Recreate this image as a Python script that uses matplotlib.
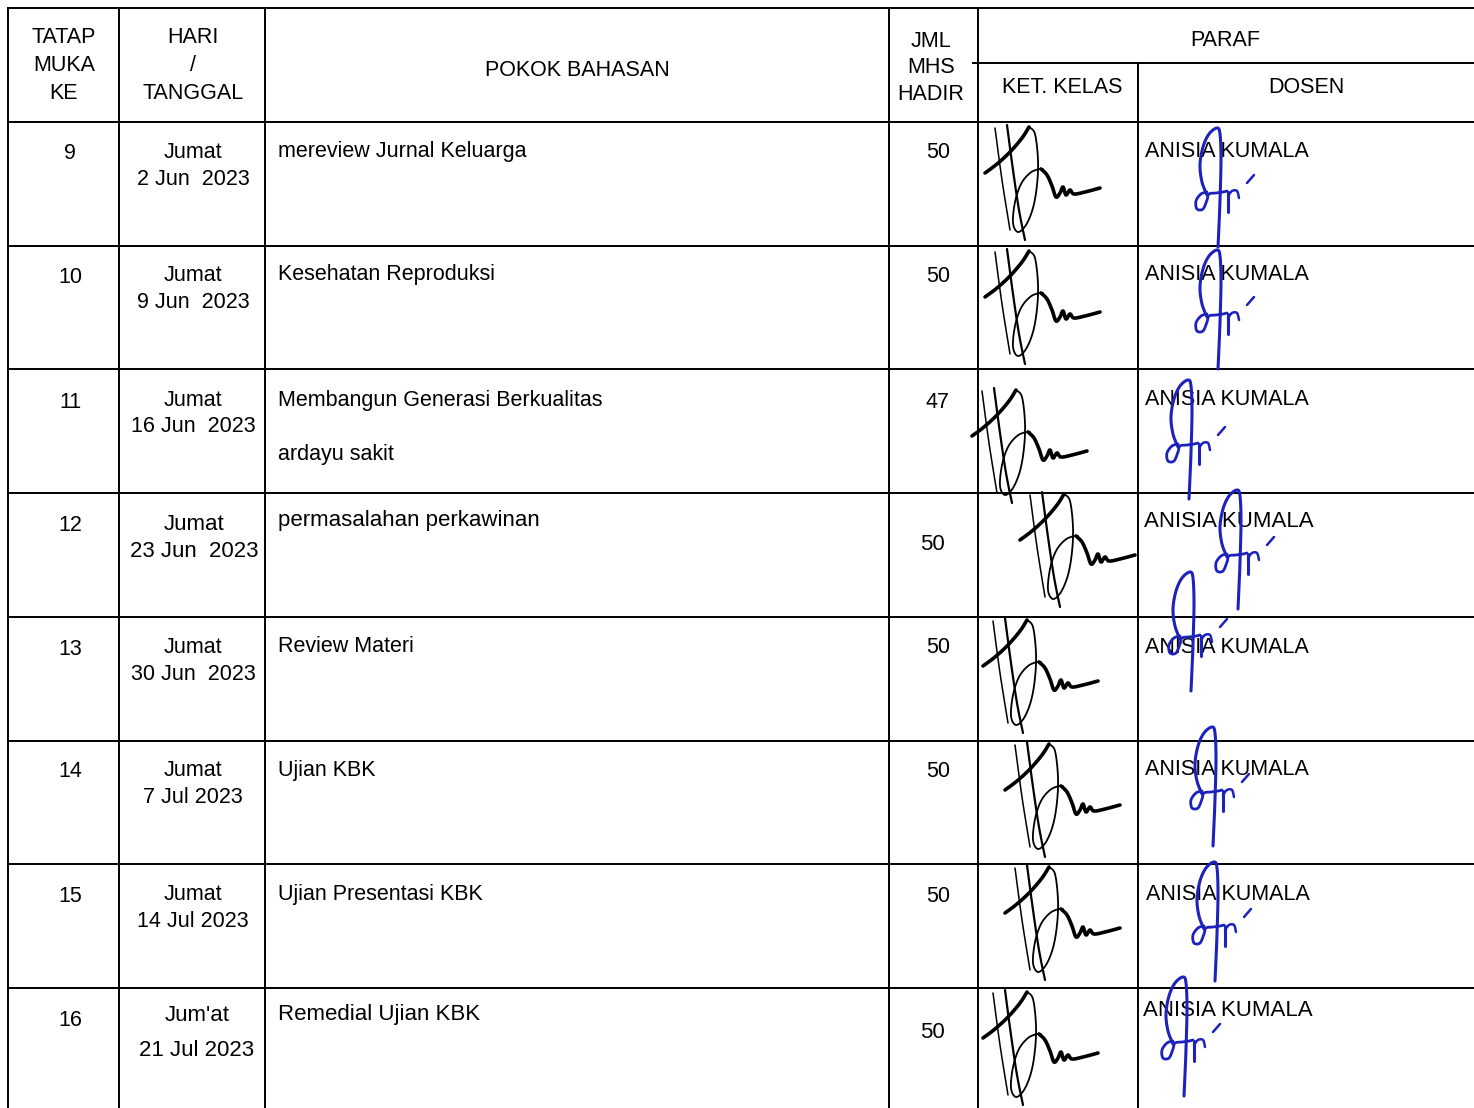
import numpy as np
import matplotlib
matplotlib.use("Agg")
import matplotlib.pyplot as plt
from matplotlib import font_manager

# ---------------- data ----------------
meeting_no = [9, 10, 11, 12, 13, 14, 15, 16]
days = ["Jumat"] * 7 + ["Jum'at"]
dates = ["2 Jun  2023", "9 Jun  2023", "16 Jun  2023", "23 Jun  2023",
         "30 Jun  2023", "7 Jul 2023", "14 Jul 2023", "21 Jul 2023"]
topics = ["mereview Jurnal Keluarga", "Kesehatan Reproduksi",
          "Membangun Generasi Berkualitas", "permasalahan perkawinan",
          "Review Materi", "Ujian KBK", "Ujian Presentasi KBK",
          "Remedial Ujian KBK"]
topic_notes = ["", "", "ardayu sakit", "", "", "", "", ""]
attendance = [50, 50, 47, 50, 50, 50, 50, 50]
lecturer = ["ANISIA KUMALA"] * 8

hdr_no = ["TATAP", "MUKA", "KE"]
hdr_day = ["HARI", "/", "TANGGAL"]
hdr_topic = "POKOK BAHASAN"
hdr_jml = ["JML", "MHS", "HADIR"]
hdr_paraf = "PARAF"
hdr_kelas = "KET. KELAS"
hdr_dosen = "DOSEN"

# ---------------- layout / style ----------------
W, H = 1474, 1108
col_x = [8, 119, 265, 889, 978, 1138]
top_y, sub_y, head_y = 8, 63, 122
row_h = (988 - 122) / 7.0

names = {f.name for f in font_manager.fontManager.ttflist}
REG = "Liberation Sans" if "Liberation Sans" in names else "DejaVu Sans"
NAR = "Liberation Sans Narrow" if "Liberation Sans Narrow" in names else REG
REG_PT = 15.5
NAR_PT = 19.2 if NAR != REG else 16.0
REG_EM = REG_PT * 100 / 72.0
NAR_EM = NAR_PT * 100 / 72.0

# per-row style: narrow font flag and vertical offsets (centres relative to row top)
narrow_row = [False, False, False, True, False, False, False, True]
off_no = [29, 30, 31, 30, 30, 29, 30, 30]
off_day = [28, 28, 29, 29, 28, 28, 28, 25]
off_date = [55, 55, 55, 56, 55, 55, 55, 60]
off_topic = [27, 27, 29, 25, 27, 28, 28, 24]
off_jml = [28, 29, 31, 49, 28, 29, 30, 42]
off_dosen = [27, 27, 28, 26, 28, 27, 28, 20]
x_jml = [938, 938, 938, 932, 938, 938, 938, 932]
x_date = [193, 193, 193, 194, 193, 193, 193, 197]
x_dosen = [1145, 1145, 1145, 1144, 1145, 1145, 1146, 1143]

blk_anchor = [(975, 120), (975, 244), (962, 383), (1010, 487),
              (973, 613), (995, 737), (995, 860), (973, 985)]
blu_anchor = [(1160, 120), (1160, 242), (1131, 372), (1180, 482),
              (1133, 564), (1155, 719), (1157, 854), (1126, 969)]

fig = plt.figure(figsize=(W / 100, H / 100), dpi=100)
ax = fig.add_axes([0, 0, 1, 1])
ax.set_xlim(0, W)
ax.set_ylim(H, 0)
ax.axis("off")

LW = 1.4


def txt(x, cy, s, narrow=False, ha="center"):
    fam = NAR if narrow else REG
    pt = NAR_PT if narrow else REG_PT
    em = NAR_EM if narrow else REG_EM
    ax.text(x, cy + 0.36 * em, s, ha=ha, va="baseline",
            fontsize=pt, family=fam, color="black", zorder=3)


# grid lines
ax.plot([col_x[0], W], [top_y, top_y], color="black", lw=LW, zorder=2)
ax.plot([973, W], [sub_y, sub_y], color="black", lw=LW, zorder=2)
for k in range(8):
    y = head_y + k * row_h
    ax.plot([col_x[0], W], [y, y], color="black", lw=LW, zorder=2)
for x in col_x[:5]:
    ax.plot([x, x], [top_y, H], color="black", lw=LW, zorder=2)
ax.plot([col_x[5], col_x[5]], [sub_y, H], color="black", lw=LW, zorder=2)

# header
for i, s in enumerate(hdr_no):
    txt(64, 35 + 28 * i, s)
for i, s in enumerate(hdr_day):
    txt(193, 35 + 28 * i, s)
txt(577, 68, hdr_topic)
for i, s in enumerate(hdr_jml):
    txt(931, 39 + 26.5 * i, s)
txt(1225, 38, hdr_paraf)
txt(1062, 85, hdr_kelas)
txt(1306, 85, hdr_dosen)

# rows
for r in range(8):
    y0 = head_y + r * row_h
    nar = narrow_row[r]
    txt(70, y0 + off_no[r], str(meeting_no[r]))
    txt(x_date[r], y0 + off_day[r], days[r], narrow=nar)
    txt(x_date[r], y0 + off_date[r], dates[r], narrow=nar)
    txt(278, y0 + off_topic[r], topics[r], narrow=nar, ha="left")
    if topic_notes[r]:
        txt(278, y0 + off_topic[r] + 54, topic_notes[r], narrow=nar, ha="left")
    txt(x_jml[r], y0 + off_jml[r], str(attendance[r]), narrow=nar)
    txt(x_dosen[r], y0 + off_dosen[r], lecturer[r], narrow=nar, ha="left")


# ---------------- signature shapes (style templates) ----------------
def smooth(pts, n=12):
    p = np.asarray(pts, float)
    if len(p) < 3:
        return p
    p = np.vstack([p[0], p, p[-1]])
    out = []
    for i in range(1, len(p) - 2):
        p0, p1, p2, p3 = p[i - 1], p[i], p[i + 1], p[i + 2]
        t = np.linspace(0, 1, n, endpoint=False)[:, None]
        seg = 0.5 * ((2 * p1) + (-p0 + p2) * t + (2 * p0 - 5 * p1 + 4 * p2 - p3) * t ** 2
                     + (-p0 + 3 * p1 - 3 * p2 + p3) * t ** 3)
        out.append(seg)
    out.append(p[-2][None, :])
    return np.vstack(out)


black_strokes = [
    ([(20, 8), (27, 60), (35, 110)], 1.1),
    ([(32, 5), (38, 50), (44, 90), (50, 120)], 1.6),
    ([(10, 53), (22, 44), (35, 32), (47, 18), (54, 7)], 2.6),
    ([(54, 7), (60, 14), (63, 40), (62, 65), (58, 88), (51, 105), (43, 112),
      (38, 103), (40, 82), (46, 64), (55, 53), (64, 49), (68, 49)], 1.3),
    ([(66, 49), (72, 55), (77, 66), (81, 77), (85, 73), (88, 67), (91, 75),
      (95, 70), (99, 74), (110, 72), (125, 68)], 2.6),
]
blue_strokes = [
    ([(47, 75), (42, 62), (40, 45), (43, 27), (49, 14), (57, 8), (60, 14),
      (61, 40), (60, 80), (59, 105), (58, 127)], 2.2),
    ([(47, 72), (41, 74), (36, 81), (37, 89), (43, 89), (47, 80), (49, 74),
      (56, 73), (63, 72), (67, 71)], 2.0),
    ([(68, 72), (68, 82), (68, 92)], 2.2),
    ([(68, 76), (72, 71), (77, 71), (79, 78)], 1.8),
    ([(87, 63), (94, 55)], 1.8),
]

for r in range(8):
    bx, by = blk_anchor[r]
    for pts, lw in black_strokes:
        s = smooth(pts)
        ax.plot(bx + s[:, 0], by + s[:, 1], color="black", lw=lw,
                solid_capstyle="round", solid_joinstyle="round", zorder=4)
    ux, uy = blu_anchor[r]
    for pts, lw in blue_strokes:
        s = smooth(pts)
        ax.plot(ux + s[:, 0], uy + s[:, 1], color="#1c22bb", lw=lw,
                solid_capstyle="round", solid_joinstyle="round", zorder=5)

fig.savefig("out.png", dpi=100)
